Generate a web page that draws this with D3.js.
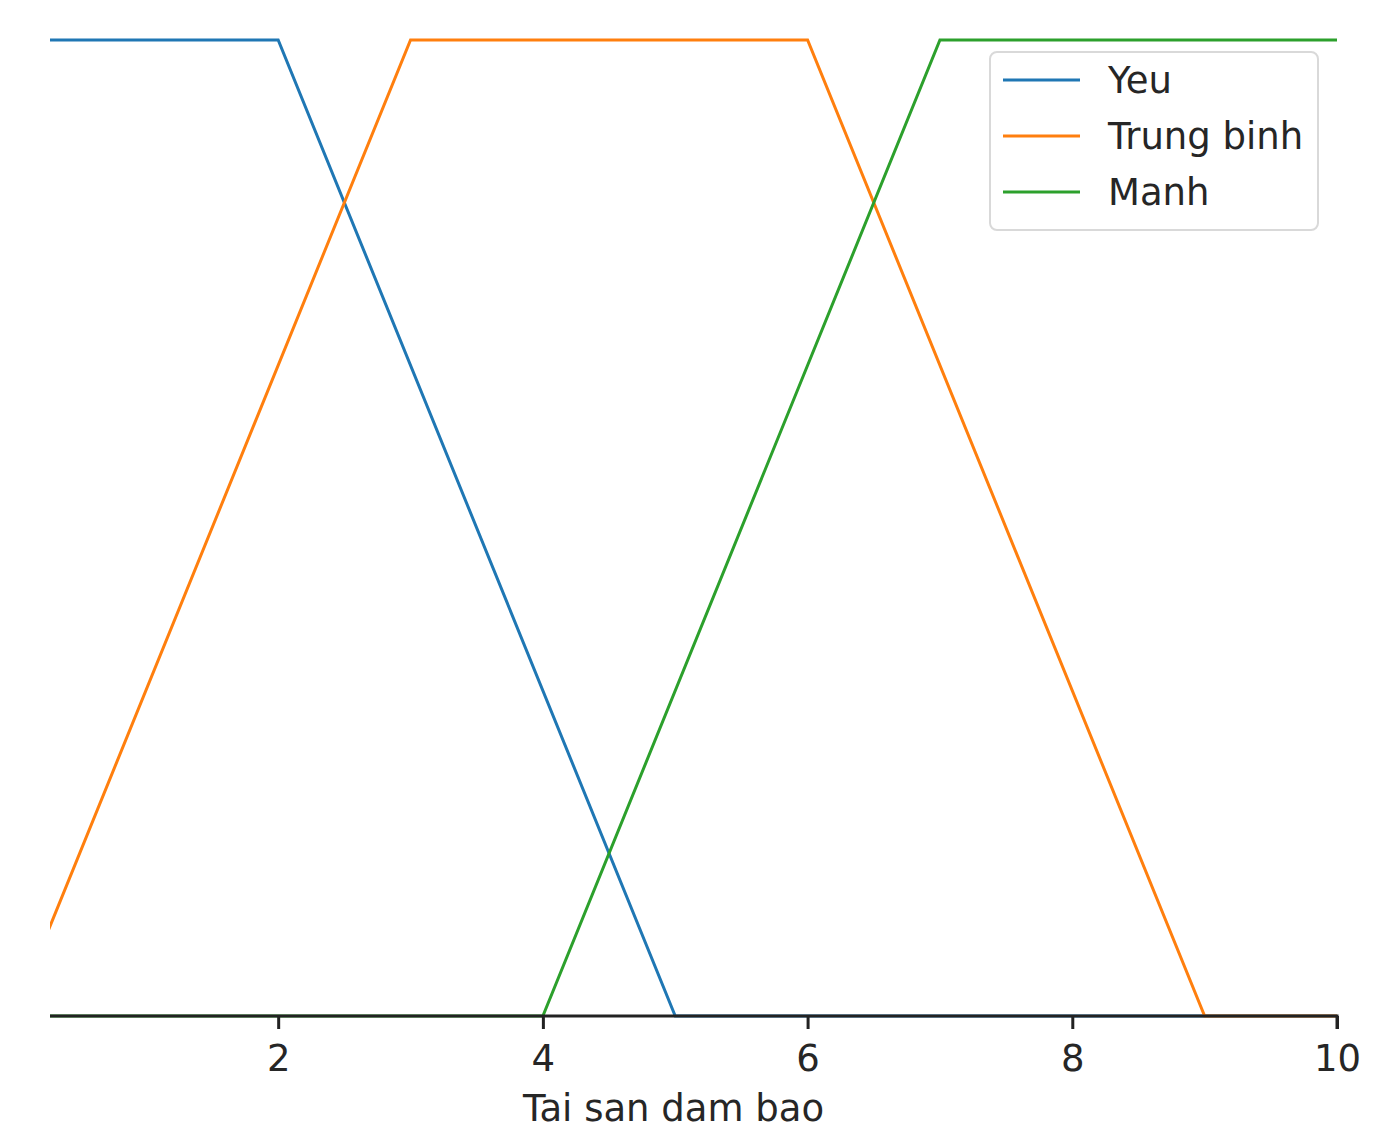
<!DOCTYPE html>
<html>
<head>
<meta charset="utf-8">
<script src="https://cdn.jsdelivr.net/npm/d3@7"></script>
<style>
  html, body { margin: 0; padding: 0; background: #fff; }
  svg { display: block; }
  text { font-family: "DejaVu Sans", sans-serif; fill: #262626; }
</style>
</head>
<body>
<script>
// Fuzzy membership functions for "Tai san dam bao" (collateral), universe 0..10
const seriesNames = ["Yeu", "Trung binh", "Manh"];
const yeuX = [0, 2, 5, 10];
const yeuY = [1, 1, 0, 0];
const trungBinhX = [0, 3, 6, 9, 10];
const trungBinhY = [0, 1, 1, 0, 0];
const manhX = [0, 4, 7, 10];
const manhY = [0, 0, 1, 1];
const xTicks = [2, 4, 6, 8, 10];
const xLabel = "Tai san dam bao";
const xDomain = [0.276, 10];

const W = 1389, H = 1129;
const colors = ["#1f77b4", "#ff7f0e", "#2ca02c"];
const FS = 37;

const svg = d3.select("body").append("svg").attr("width", W).attr("height", H);

const x = d3.scaleLinear().domain(xDomain).range([50, 1337]);
const y = d3.scaleLinear().domain([0, 1]).range([1016, 40]);

svg.append("defs").append("clipPath").attr("id", "plotClip")
  .append("rect").attr("x", 50).attr("y", 0).attr("width", 1337 - 50 + 2).attr("height", 1030);

const series = [
  { name: seriesNames[0], xs: yeuX, ys: yeuY },
  { name: seriesNames[1], xs: trungBinhX, ys: trungBinhY },
  { name: seriesNames[2], xs: manhX, ys: manhY }
];

const line = d3.line().x(d => x(d[0])).y(d => y(d[1]));

const plot = svg.append("g").attr("clip-path", "url(#plotClip)");
series.forEach((s, i) => {
  plot.append("path")
    .datum(d3.zip(s.xs, s.ys))
    .attr("d", line)
    .attr("fill", "none")
    .attr("stroke", colors[i])
    .attr("stroke-width", 3)
    .attr("stroke-linejoin", "miter");
});

// Bottom axis
const axis = d3.axisBottom(x).tickValues(xTicks).tickSize(13).tickPadding(16).tickFormat(d3.format("d"));
const gx = svg.append("g").attr("transform", "translate(0,1016)").call(axis);
gx.select(".domain").attr("stroke", "#222").attr("stroke-width", 3).attr("d", "M50,0H1337V13");
gx.selectAll(".tick line").attr("stroke", "#222").attr("stroke-width", 3);
gx.selectAll(".tick text").attr("font-size", FS).attr("font-family", "DejaVu Sans, sans-serif").attr("fill", "#262626");

svg.append("text")
  .attr("x", (x(xDomain[0]) + x(xDomain[1])) / 2 - 20)
  .attr("y", 1121)
  .attr("text-anchor", "middle")
  .attr("font-size", FS)
  .text(xLabel);

// Legend
const lg = svg.append("g").attr("transform", "translate(990,52)");
lg.append("rect")
  .attr("x", 0).attr("y", 0).attr("width", 328).attr("height", 178)
  .attr("rx", 7).attr("fill", "#fff").attr("fill-opacity", 0.85)
  .attr("stroke", "#d9d9d9").attr("stroke-width", 2);
series.forEach((s, i) => {
  const cy = 28 + i * 56;
  lg.append("line").attr("x1", 13).attr("x2", 90).attr("y1", cy).attr("y2", cy)
    .attr("stroke", colors[i]).attr("stroke-width", 3);
  lg.append("text").attr("x", 118).attr("y", cy + 13).attr("font-size", FS).text(s.name);
});
</script>
</body>
</html>
